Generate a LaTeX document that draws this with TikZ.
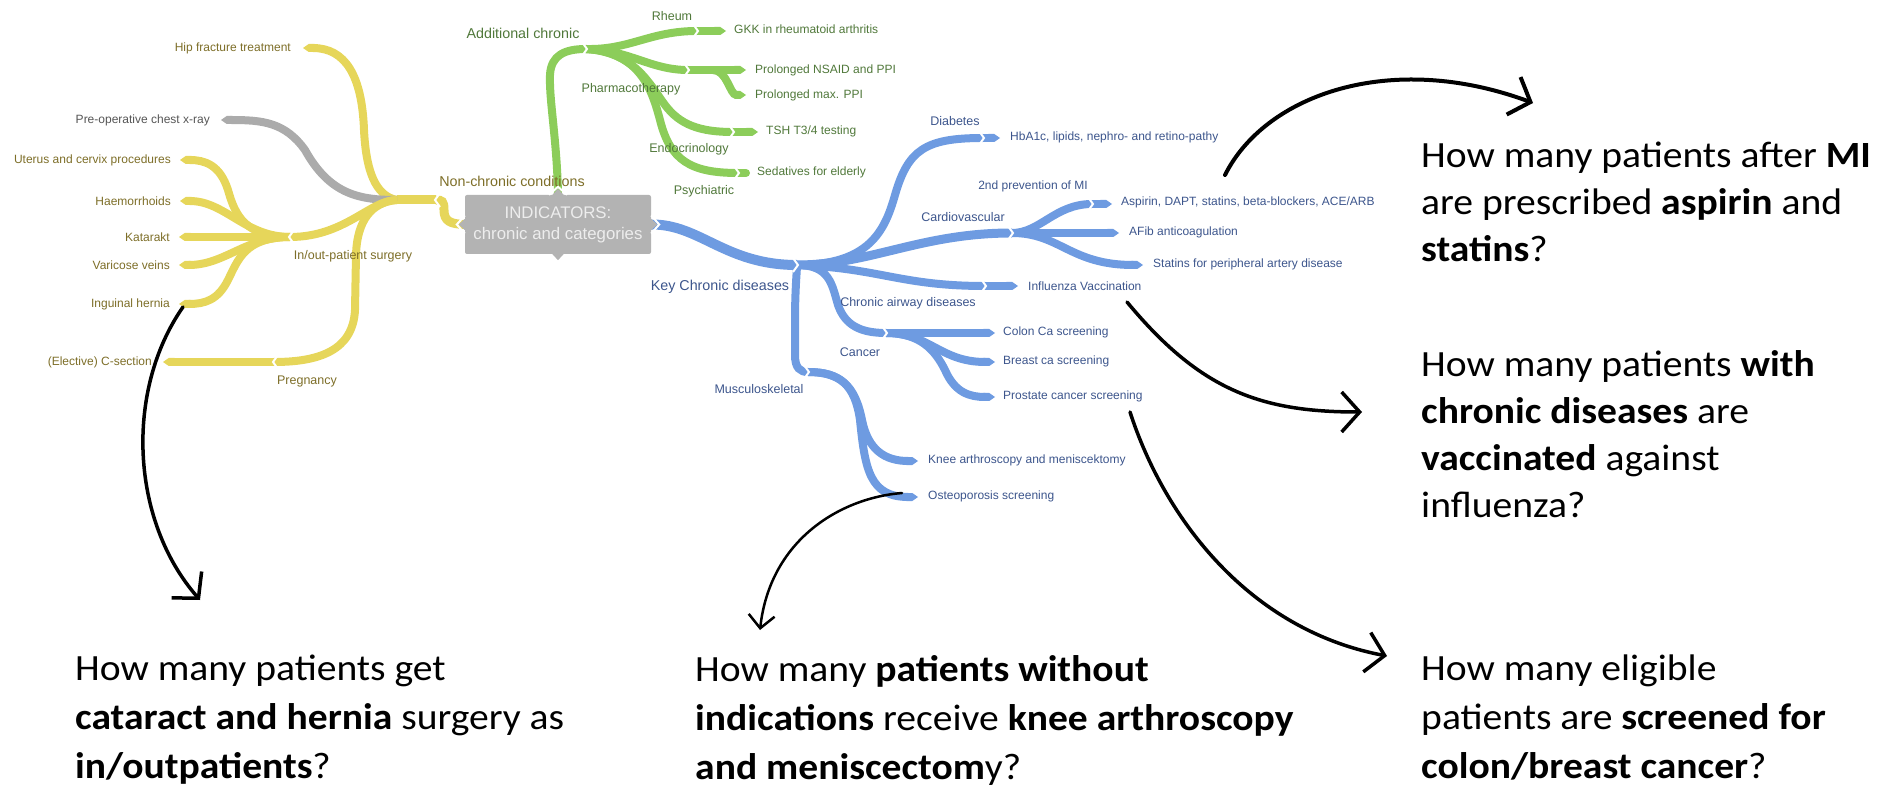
\documentclass[tikz,border=0pt]{standalone}
\usepackage{fontspec}
\setmainfont{Liberation Sans}
\newfontfamily\qfont[FakeStretch=1.07]{Carlito}
\usetikzlibrary{arrows.meta,calc}
\pgfdeclarelayer{bg}
\pgfsetlayers{bg,main}
\definecolor{ycol}{HTML}{E6D65A}
\definecolor{ytext}{HTML}{7D6E28}
\definecolor{gcol}{HTML}{8CCD5A}
\definecolor{gtext}{HTML}{50783A}
\definecolor{bcol}{HTML}{6E9BE1}
\definecolor{btext}{HTML}{3C558C}
\definecolor{boxcol}{HTML}{B3B3B3}
\definecolor{boxtext}{HTML}{EDEDED}
\definecolor{graybr}{HTML}{ABABAB}
\definecolor{preoptext}{HTML}{555555}
\tikzset{
  leaf/.style={inner sep=0pt, font=\fontsize{12}{14}\selectfont},
  subl/.style={inner sep=0pt, font=\fontsize{12.5}{15}\selectfont},
  topl/.style={inner sep=0pt, font=\fontsize{14.3}{17}\selectfont},
  rib/.style={line width=8pt, line cap=butt},
  yrib/.style={rib, draw=ycol},
  grib/.style={rib, draw=gcol},
  brib/.style={rib, draw=bcol},
  tipend/.style={-{Triangle Cap[cap angle=70]}},
  chevR/.pic={\draw[white, line width=2pt] (-4,-7) -- (1,0) -- (-4,7);},
  chevL/.pic={\draw[white, line width=2pt] (4,-7) -- (-1,0) -- (4,7);},
  indbox/.style={fill=boxcol, text=boxtext, rounded corners=2pt, minimum width=186pt, minimum height=59pt, align=center, inner sep=0pt, font=\fontsize{16.8}{21}\selectfont},
  blk/.style={draw=black, line width=3.5pt, line cap=round, -{Straight Barb[length=18pt, width=40pt]}},
  blkthin/.style={draw=black, line width=2.5pt, line cap=round, -{Straight Barb[length=13pt, width=26pt]}},
  quest/.style={inner sep=0pt, align=left, anchor=north west, font=\qfont\fontsize{37}{47}\selectfont},
  questlow/.style={quest, font=\qfont\fontsize{37}{49}\selectfont}
}
\begin{document}
\begin{tikzpicture}[x=1pt,y=-1pt]
\useasboundingbox (0,0) rectangle (1888,791);

% ---------- central box ----------
\node[indbox] (box) at (558,224.5) {INDICATORS:\\chronic and categories};

% ---------- yellow labels ----------
\node[leaf, text=ytext, anchor=east] (hip) at (291,48) {Hip fracture treatment};
\node[leaf, text=preoptext, anchor=east] (preop) at (210,120) {Pre-operative chest x-ray};
\node[leaf, text=ytext, anchor=east] (uterus) at (171,160) {Uterus and cervix procedures};
\node[leaf, text=ytext, anchor=east] (haem) at (171,201) {Haemorrhoids};
\node[leaf, text=ytext, anchor=east] (kat) at (170,237) {Katarakt};
\node[leaf, text=ytext, anchor=east] (var) at (170,265) {Varicose veins};
\node[leaf, text=ytext, anchor=east] (ing) at (170,304) {Inguinal hernia};
\node[leaf, text=ytext, anchor=east] (csec) at (152,362) {(Elective) C-section};
\node[subl, text=ytext] (inout) at (353,256) {In/out-patient surgery};
\node[subl, text=ytext] (preg) at (307,381) {Pregnancy};
\node[topl, text=ytext] (nonchr) at (512,181) {Non-chronic conditions};

% ---------- green labels ----------
\node[topl, text=gtext] (addchr) at (523,33) {Additional chronic};
\node[subl, text=gtext] (rheum) at (672,16) {Rheum};
\node[subl, text=gtext] (pharma) at (631,89) {Pharmacotherapy};
\node[subl, text=gtext] (endo) at (689,149) {Endocrinology};
\node[subl, text=gtext] (psych) at (704,191) {Psychiatric};
\node[leaf, text=gtext, anchor=west] (gkk) at (734,29) {GKK in rheumatoid arthritis};
\node[leaf, text=gtext, anchor=west] (nsaid) at (755,70) {Prolonged NSAID and PPI};
\node[leaf, text=gtext, anchor=west] (maxppi) at (755,95) {Prolonged max. PPI};
\node[leaf, text=gtext, anchor=west] (tsh) at (766,131) {TSH T3/4 testing};
\node[leaf, text=gtext, anchor=west] (sed) at (757,172) {Sedatives for elderly};

% ---------- blue labels ----------
\node[topl, text=btext] (keychr) at (720,287) {Key Chronic diseases};
\node[subl, text=btext] (diab) at (955,121) {Diabetes};
\node[leaf, text=btext] (mi2) at (1033,186) {2nd prevention of MI};
\node[subl, text=btext] (cardio) at (963,217) {Cardiovascular};
\node[subl, text=btext] (airway) at (908,303) {Chronic airway diseases};
\node[subl, text=btext] (cancer) at (860,352) {Cancer};
\node[subl, text=btext] (musc) at (759,389) {Musculoskeletal};
\node[leaf, text=btext, anchor=west] (hba) at (1010,137) {HbA1c, lipids, nephro- and retino-pathy};
\node[leaf, text=btext, anchor=west] (aspirin) at (1121,202) {Aspirin, DAPT, statins, beta-blockers, ACE/ARB};
\node[leaf, text=btext, anchor=west] (afib) at (1129,232) {AFib anticoagulation};
\node[leaf, text=btext, anchor=west] (statpad) at (1153,264) {Statins for peripheral artery disease};
\node[leaf, text=btext, anchor=west] (flu) at (1028,286) {Influenza Vaccination};
\node[leaf, text=btext, anchor=west] (colon) at (1003,332) {Colon Ca screening};
\node[leaf, text=btext, anchor=west] (breast) at (1003,361) {Breast ca screening};
\node[leaf, text=btext, anchor=west] (prostate) at (1003,396) {Prostate cancer screening};
\node[leaf, text=btext, anchor=west] (knee) at (928,460) {Knee arthroscopy and meniscektomy};
\node[leaf, text=btext, anchor=west] (osteo) at (928,496) {Osteoporosis screening};

% ---------- junction coordinates ----------
\coordinate (ytr) at (436,200);
\coordinate (yhub) at (397,200);
\coordinate (ioch) at (290,237);
\coordinate (pgch) at (274,362);
\coordinate (gch) at (586,49);
\coordinate (rhch) at (697,31);
\coordinate (phch) at (688,70);
\coordinate (phsub) at (713,70);
\coordinate (enach) at (733,132);
\coordinate (psch) at (738,173);
\coordinate (bch) at (797,265);
\coordinate (dbch) at (983,138);
\coordinate (cvch) at (1012,233);
\coordinate (mich) at (1092,204);
\coordinate (flch) at (985,286);
\coordinate (cach) at (886,333);
\coordinate (msch) at (808,372);

\begin{pgfonlayer}{bg}
% yellow
\draw[yrib, line width=9pt] (box.west) .. controls (450,224) and (444,221) .. (444,210) .. controls (444,201) and (442,200) .. (ytr);
\draw[yrib, line width=9pt] (ytr) -- (yhub);
\draw[yrib, tipend] (yhub) .. controls (375,196) and (366,170) .. (364,130) .. controls (362,75) and (345,48) .. ($(hip.east)+(12,0)$);
\draw[rib, draw=graybr, tipend] (yhub) .. controls (360,200) and (330,195) .. (305,150) .. controls (285,122) and (262,120) .. ($(preop.east)+(11,0)$);
\draw[yrib] (yhub) .. controls (370,200) and (345,237) .. (ioch);
\draw[yrib] (yhub) .. controls (372,202) and (357,220) .. (356,255) -- (355,310) .. controls (353,350) and (320,362) .. (pgch);
\draw[yrib, tipend] (pgch) -- ($(csec.east)+(11,0)$);
\draw[yrib, tipend] (ioch) .. controls (245,237) and (235,215) .. (228,190) .. controls (220,165) and (205,160) .. ($(uterus.east)+(9,0)$);
\draw[yrib, tipend] (ioch) .. controls (245,237) and (225,201) .. ($(haem.east)+(9,0)$);
\draw[yrib, tipend] (ioch) -- ($(kat.east)+(9,0)$);
\draw[yrib, tipend] (ioch) .. controls (245,237) and (225,265) .. ($(var.east)+(9,0)$);
\draw[yrib, tipend] (ioch) .. controls (245,237) and (238,260) .. (228,280) .. controls (218,300) and (205,304) .. ($(ing.east)+(9,0)$);
% green
\draw[grib] (box.north) .. controls (557,140) and (549,100) .. (550,75) .. controls (551,55) and (565,49) .. (gch);
\draw[grib] (gch) .. controls (630,50) and (650,31) .. (rhch);
\draw[grib, tipend] (rhch) -- (726,31);
\draw[grib] (gch) .. controls (630,50) and (650,70) .. (phch);
\draw[grib, tipend] (phch) -- (746,70);
\draw[grib, tipend] (phsub) .. controls (727,70) and (730,95) .. (746,95);
\draw[grib] (gch) .. controls (635,52) and (650,85) .. (665,105) .. controls (680,125) and (700,132) .. (enach);
\draw[grib, tipend] (enach) -- (758,132);
\draw[grib] (gch) .. controls (640,52) and (652,90) .. (660,120) .. controls (670,160) and (690,173) .. (psch);
\draw[grib, line cap=round] (psch) -- (746,173);
% blue
\draw[brib, line width=10pt] (box.east) .. controls (700,224) and (725,265) .. (bch);
\draw[brib] (bch) .. controls (870,265) and (885,230) .. (895,195) .. controls (908,150) and (925,138) .. (dbch);
\draw[brib, tipend] (dbch) -- (1000,138);
\draw[brib, line width=9pt] (bch) .. controls (870,265) and (920,233) .. (cvch);
\draw[brib] (cvch) .. controls (1040,233) and (1055,204) .. (mich);
\draw[brib, tipend] (mich) -- (1112,204);
\draw[brib, tipend] (cvch) -- (1119,233);
\draw[brib, tipend] (cvch) .. controls (1060,233) and (1070,265) .. (1143,265);
\draw[brib] (bch) .. controls (880,268) and (900,286) .. (flch);
\draw[brib, tipend] (flch) -- (1018,286);
\draw[brib] (bch) .. controls (830,265) and (832,285) .. (838,305) .. controls (845,325) and (860,333) .. (cach);
\draw[brib, tipend] (cach) -- (995,333);
\draw[brib, tipend] (cach) .. controls (930,333) and (940,362) .. (995,362);
\draw[brib, tipend] (cach) .. controls (920,333) and (935,350) .. (945,370) .. controls (955,393) and (970,397) .. (995,397);
\draw[brib] (bch) .. controls (797,270) and (795,290) .. (795,320) -- (795,355) .. controls (795,368) and (800,372) .. (msch);
\draw[brib, tipend] (msch) .. controls (840,372) and (855,385) .. (862,420) .. controls (868,450) and (885,461) .. (918,461);
\draw[brib, tipend] (msch) .. controls (840,372) and (855,385) .. (860,420) .. controls (865,470) and (870,497) .. (918,497);
\end{pgfonlayer}

% chevrons
\pic at (ytr) {chevL};
\pic at (ioch) {chevL};
\pic at (pgch) {chevL};
\foreach \c in {gch,rhch,phch,enach,psch,bch,dbch,cvch,mich,flch,cach,msch} {\pic at (\c) {chevR};}

% box pointers
\draw[white, line width=2pt] ($(box.west)+(0,-9)$) -- ($(box.west)+(-8,0)$) -- ($(box.west)+(0,9)$);
\fill[boxcol] ($(box.west)+(0.5,-6)$) -- ($(box.west)+(-6,0)$) -- ($(box.west)+(0.5,6)$) -- cycle;
\draw[white, line width=2pt] ($(box.east)+(0,-9)$) -- ($(box.east)+(8,0)$) -- ($(box.east)+(0,9)$);
\fill[boxcol] ($(box.east)+(-0.5,-6)$) -- ($(box.east)+(6,0)$) -- ($(box.east)+(-0.5,6)$) -- cycle;
\draw[white, line width=2pt] ($(box.north)+(-9,0)$) -- ($(box.north)+(0,-8)$) -- ($(box.north)+(9,0)$);
\fill[boxcol] ($(box.north)+(-6,0.5)$) -- ($(box.north)+(0,-6)$) -- ($(box.north)+(6,0.5)$) -- cycle;
\fill[boxcol] ($(box.south)+(-6,-0.5)$) -- ($(box.south)+(0,6)$) -- ($(box.south)+(6,-0.5)$) -- cycle;

% ---------- questions ----------
\node[quest] (q1) at (1421,142) {How many patients after \textbf{MI}\\are prescribed \textbf{aspirin} and\\\textbf{statins}?};
\node[quest] (q2) at (1421,350) {How many patients \textbf{with}\\\textbf{chronic diseases} are\\\textbf{vaccinated} against\\influenza?};
\node[questlow] (q3) at (1421,655) {How many eligible\\patients are \textbf{screened for}\\\textbf{colon/breast cancer}?};
\node[questlow] (q4) at (75,655) {How many patients get\\\textbf{cataract and hernia} surgery as\\\textbf{in/outpatients}?};
\node[questlow] (q5) at (695,655) {How many \textbf{patients without}\\\textbf{indications} receive \textbf{knee arthroscopy}\\\textbf{and meniscectom}y?};

% ---------- black arrows ----------
\coordinate (a1s) at (183,307);  \coordinate (a1e) at (200,600);
\coordinate (a2s) at (902,493);  \coordinate (a2e) at (760,630);
\coordinate (a3s) at (1225,175); \coordinate (a3e) at (1533,103);
\coordinate (a4s) at (1127,302); \coordinate (a4e) at (1362,412);
\coordinate (a5s) at (1130,412); \coordinate (a5e) at (1387,656);
\draw[blk] (a1s) .. controls (125,390) and (130,520) .. (a1e);
\draw[blkthin] (a2s) .. controls (840,498) and (770,540) .. (a2e);
\draw[blk, line width=4pt] (a3s) .. controls (1265,95) and (1390,50) .. (a3e);
\draw[blk] (a4s) .. controls (1200,390) and (1260,412) .. (a4e);
\draw[blk] (a5s) .. controls (1165,520) and (1250,630) .. (a5e);
\end{tikzpicture}
\end{document}
